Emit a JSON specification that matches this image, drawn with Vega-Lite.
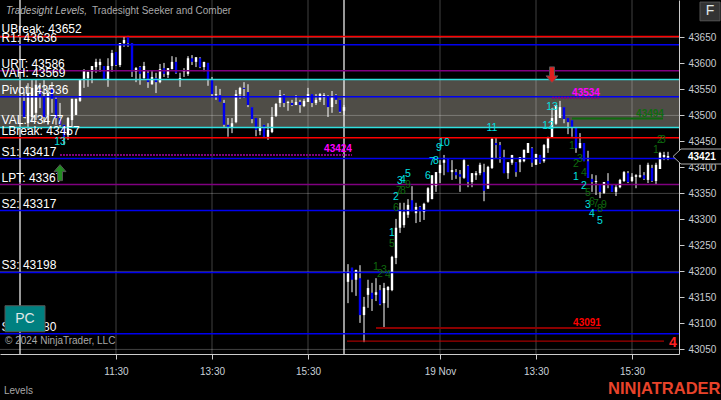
{"$schema":"https://vega.github.io/schema/vega-lite/v6.json","width":679,"height":354,"autosize":{"type":"none"},"padding":{"left":0,"top":0,"right":42,"bottom":46},"background":"#000000","config":{"view":{"stroke":null},"text":{"font":"Liberation Sans"},"axis":{"labelFont":"Liberation Sans"}},
"datasets":{
"candles":[
{"i":1,"h":43545,"l":43495,"o":43528,"c":43497},{"i":2,"h":43562,"l":43472,"o":43485,"c":43543},{"i":3,"h":43568,"l":43487,"o":43497,"c":43553},{"i":4,"h":43568,"l":43491,"o":43505,"c":43559},{"i":5,"h":43562,"l":43514,"o":43551,"c":43535},{"i":6,"h":43568,"l":43485,"o":43537,"c":43497},{"i":7,"h":43553,"l":43482,"o":43501,"c":43543},{"i":8,"h":43564,"l":43505,"o":43553,"c":43532},{"i":9,"h":43535,"l":43482,"o":43532,"c":43495},{"i":10,"h":43524,"l":43476,"o":43495,"c":43482},{"i":11,"h":43482,"l":43443,"o":43482,"c":43459},{"i":12,"h":43497,"l":43453,"o":43462,"c":43495},{"i":13,"h":43532,"l":43478,"o":43491,"c":43532},{"i":14,"h":43532,"l":43501,"o":43501,"c":43532},{"i":15,"h":43568,"l":43526,"o":43528,"c":43568},{"i":16,"h":43589,"l":43553,"o":43568,"c":43587},{"i":17,"h":43584,"l":43555,"o":43572,"c":43584},{"i":18,"h":43595,"l":43562,"o":43584,"c":43595},{"i":19,"h":43609,"l":43582,"o":43593,"c":43603},{"i":20,"h":43609,"l":43584,"o":43597,"c":43603},{"i":21,"h":43595,"l":43568,"o":43595,"c":43570},{"i":22,"h":43610,"l":43555,"o":43570,"c":43595},{"i":23,"h":43626,"l":43584,"o":43595,"c":43620},{"i":24,"h":43622,"l":43595,"o":43622,"c":43597},{"i":25,"h":43639,"l":43593,"o":43597,"c":43639},{"i":26,"h":43651,"l":43632,"o":43639,"c":43645},{"i":27,"h":43653,"l":43632,"o":43651,"c":43639},{"i":28,"h":43639,"l":43574,"o":43639,"c":43584},{"i":29,"h":43593,"l":43564,"o":43584,"c":43591},{"i":30,"h":43595,"l":43559,"o":43593,"c":43580},{"i":31,"h":43603,"l":43568,"o":43572,"c":43595},{"i":32,"h":43587,"l":43553,"o":43582,"c":43564},{"i":33,"h":43587,"l":43559,"o":43560,"c":43574},{"i":34,"h":43582,"l":43543,"o":43572,"c":43564},{"i":35,"h":43599,"l":43562,"o":43564,"c":43589},{"i":36,"h":43601,"l":43574,"o":43591,"c":43580},{"i":37,"h":43591,"l":43572,"o":43578,"c":43591},{"i":38,"h":43614,"l":43589,"o":43589,"c":43603},{"i":39,"h":43612,"l":43580,"o":43603,"c":43582},{"i":40,"h":43582,"l":43555,"o":43568,"c":43572},{"i":41,"h":43591,"l":43574,"o":43584,"c":43587},{"i":42,"h":43614,"l":43576,"o":43580,"c":43610},{"i":43,"h":43616,"l":43597,"o":43610,"c":43603},{"i":44,"h":43612,"l":43593,"o":43603,"c":43612},{"i":45,"h":43612,"l":43591,"o":43610,"c":43593},{"i":46,"h":43603,"l":43585,"o":43593,"c":43603},{"i":47,"h":43601,"l":43557,"o":43601,"c":43568},{"i":48,"h":43574,"l":43535,"o":43570,"c":43541},{"i":49,"h":43557,"l":43530,"o":43539,"c":43541},{"i":50,"h":43551,"l":43526,"o":43539,"c":43526},{"i":51,"h":43530,"l":43478,"o":43524,"c":43482},{"i":52,"h":43495,"l":43459,"o":43482,"c":43476},{"i":53,"h":43495,"l":43466,"o":43476,"c":43485},{"i":54,"h":43549,"l":43485,"o":43487,"c":43541},{"i":55,"h":43555,"l":43532,"o":43541,"c":43553},{"i":56,"h":43564,"l":43534,"o":43553,"c":43551},{"i":57,"h":43560,"l":43516,"o":43545,"c":43520},{"i":58,"h":43516,"l":43485,"o":43516,"c":43493},{"i":59,"h":43495,"l":43460,"o":43495,"c":43472},{"i":60,"h":43495,"l":43462,"o":43470,"c":43478},{"i":61,"h":43482,"l":43459,"o":43482,"c":43459},{"i":62,"h":43485,"l":43453,"o":43459,"c":43472},{"i":63,"h":43516,"l":43466,"o":43468,"c":43497},{"i":64,"h":43524,"l":43497,"o":43499,"c":43522},{"i":65,"h":43549,"l":43516,"o":43524,"c":43539},{"i":66,"h":43541,"l":43516,"o":43539,"c":43524},{"i":67,"h":43528,"l":43509,"o":43524,"c":43526},{"i":68,"h":43530,"l":43518,"o":43524,"c":43520},{"i":69,"h":43539,"l":43520,"o":43520,"c":43526},{"i":70,"h":43530,"l":43505,"o":43526,"c":43520},{"i":71,"h":43532,"l":43516,"o":43518,"c":43528},{"i":72,"h":43553,"l":43526,"o":43526,"c":43541},{"i":73,"h":43541,"l":43516,"o":43541,"c":43524},{"i":74,"h":43541,"l":43520,"o":43524,"c":43530},{"i":75,"h":43543,"l":43526,"o":43530,"c":43541},{"i":76,"h":43543,"l":43520,"o":43534,"c":43539},{"i":77,"h":43539,"l":43497,"o":43537,"c":43516},{"i":78,"h":43547,"l":43505,"o":43516,"c":43535},{"i":79,"h":43541,"l":43522,"o":43539,"c":43530},{"i":80,"h":43530,"l":43505,"o":43530,"c":43507},{"i":81,"h":43520,"l":43501,"o":43509,"c":43516},
{"i":82,"h":43214,"l":43139,"o":43180,"c":43197},{"i":83,"h":43207,"l":43160,"o":43207,"c":43184},{"i":84,"h":43203,"l":43153,"o":43184,"c":43203},{"i":85,"h":43212,"l":43101,"o":43187,"c":43116},{"i":86,"h":43151,"l":43064,"o":43116,"c":43132},{"i":87,"h":43184,"l":43130,"o":43155,"c":43168},{"i":88,"h":43178,"l":43124,"o":43159,"c":43147},{"i":89,"h":43187,"l":43143,"o":43155,"c":43160},{"i":90,"h":43174,"l":43135,"o":43164,"c":43137},{"i":91,"h":43178,"l":43091,"o":43139,"c":43168},{"i":92,"h":43172,"l":43130,"o":43164,"c":43170},{"i":93,"h":43230,"l":43162,"o":43164,"c":43228},{"i":94,"h":43301,"l":43214,"o":43226,"c":43284},{"i":95,"h":43332,"l":43274,"o":43284,"c":43318},{"i":96,"h":43332,"l":43284,"o":43289,"c":43314},{"i":97,"h":43339,"l":43303,"o":43309,"c":43328},{"i":98,"h":43364,"l":43316,"o":43337,"c":43316},{"i":99,"h":43332,"l":43293,"o":43312,"c":43324},{"i":100,"h":43326,"l":43295,"o":43324,"c":43316},{"i":101,"h":43332,"l":43299,"o":43314,"c":43330},{"i":102,"h":43362,"l":43332,"o":43334,"c":43360},{"i":103,"h":43385,"l":43339,"o":43339,"c":43385},{"i":104,"h":43391,"l":43353,"o":43364,"c":43391},{"i":105,"h":43414,"l":43370,"o":43389,"c":43405},{"i":106,"h":43424,"l":43385,"o":43409,"c":43414},{"i":107,"h":43418,"l":43391,"o":43416,"c":43391},{"i":108,"h":43414,"l":43376,"o":43391,"c":43395},{"i":109,"h":43397,"l":43378,"o":43391,"c":43385},{"i":110,"h":43395,"l":43353,"o":43387,"c":43382},{"i":111,"h":43416,"l":43378,"o":43380,"c":43414},{"i":112,"h":43405,"l":43362,"o":43403,"c":43372},{"i":113,"h":43389,"l":43362,"o":43372,"c":43389},{"i":114,"h":43393,"l":43376,"o":43385,"c":43389},{"i":115,"h":43409,"l":43385,"o":43389,"c":43405},{"i":116,"h":43407,"l":43335,"o":43391,"c":43355},{"i":117,"h":43403,"l":43359,"o":43359,"c":43401},{"i":118,"h":43457,"l":43397,"o":43399,"c":43455},{"i":119,"h":43457,"l":43418,"o":43447,"c":43443},{"i":120,"h":43449,"l":43409,"o":43443,"c":43420},{"i":121,"h":43434,"l":43389,"o":43420,"c":43389},{"i":122,"h":43410,"l":43378,"o":43389,"c":43410},{"i":123,"h":43424,"l":43405,"o":43409,"c":43424},{"i":124,"h":43410,"l":43382,"o":43410,"c":43391},{"i":125,"h":43420,"l":43391,"o":43410,"c":43420},{"i":126,"h":43434,"l":43410,"o":43412,"c":43434},{"i":127,"h":43447,"l":43428,"o":43428,"c":43447},{"i":128,"h":43439,"l":43401,"o":43437,"c":43409},{"i":129,"h":43426,"l":43405,"o":43405,"c":43426},{"i":130,"h":43424,"l":43407,"o":43424,"c":43409},{"i":131,"h":43445,"l":43409,"o":43412,"c":43443},{"i":132,"h":43459,"l":43428,"o":43437,"c":43457},{"i":133,"h":43514,"l":43457,"o":43457,"c":43495},{"i":134,"h":43520,"l":43482,"o":43484,"c":43520},{"i":135,"h":43528,"l":43495,"o":43495,"c":43516},{"i":136,"h":43516,"l":43485,"o":43516,"c":43493},{"i":137,"h":43495,"l":43464,"o":43495,"c":43487},{"i":138,"h":43491,"l":43459,"o":43491,"c":43476},{"i":139,"h":43476,"l":43428,"o":43476,"c":43437},{"i":140,"h":43466,"l":43437,"o":43437,"c":43447},{"i":141,"h":43447,"l":43412,"o":43447,"c":43412},{"i":142,"h":43432,"l":43380,"o":43412,"c":43380},{"i":143,"h":43387,"l":43353,"o":43378,"c":43372},{"i":144,"h":43385,"l":43347,"o":43372,"c":43374},{"i":145,"h":43368,"l":43341,"o":43368,"c":43353},{"i":146,"h":43372,"l":43349,"o":43351,"c":43372},{"i":147,"h":43389,"l":43360,"o":43374,"c":43366},{"i":148,"h":43368,"l":43353,"o":43366,"c":43353},{"i":149,"h":43366,"l":43345,"o":43353,"c":43362},{"i":150,"h":43378,"l":43360,"o":43362,"c":43376},{"i":151,"h":43393,"l":43372,"o":43374,"c":43391},{"i":152,"h":43393,"l":43370,"o":43389,"c":43372},{"i":153,"h":43389,"l":43372,"o":43374,"c":43382},{"i":154,"h":43387,"l":43360,"o":43382,"c":43385},{"i":155,"h":43405,"l":43380,"o":43382,"c":43385},{"i":156,"h":43391,"l":43376,"o":43385,"c":43378},{"i":157,"h":43409,"l":43370,"o":43376,"c":43405},{"i":158,"h":43405,"l":43372,"o":43399,"c":43374},{"i":159,"h":43409,"l":43368,"o":43374,"c":43405},{"i":160,"h":43430,"l":43397,"o":43397,"c":43428},{"i":161,"h":43430,"l":43414,"o":43420,"c":43424},{"i":162,"h":43430,"l":43414,"o":43418,"c":43422}],
"levels":[
{"t":"UBreak: 43652","p":43652,"kind":"break","i":-4.6},{"t":"R1: 43636","p":43636,"kind":"sr","i":-4.6},{"t":"URT: 43586","p":43586,"kind":"pt","i":-4.6},{"t":"VAH: 43569","p":43569,"kind":"va","i":-4.6},{"t":"Pivot: 43536","p":43536,"kind":"sr","i":-4.6},{"t":"VAL: 43477","p":43477,"kind":"va","i":-4.6},{"t":"LBreak: 43457","p":43457,"kind":"break","i":-4.6},{"t":"S1: 43417","p":43417,"kind":"sr","i":-4.6},{"t":"LPT: 43367","p":43367,"kind":"pt","i":-4.6},{"t":"S2: 43317","p":43317,"kind":"sr","i":-4.6},{"t":"S3: 43198","p":43198,"kind":"sr","i":-4.6},{"t":"S4: 43080","p":43080,"kind":"sr","i":-4.6}],
"counts":[
{"t":"13","i":10,"p":43449,"kind":"seek"},{"t":"1","i":93,"p":43274,"kind":"seek"},{"t":"2","i":94,"p":43343,"kind":"seek"},{"t":"3","i":95,"p":43374,"kind":"seek"},{"t":"4","i":95.75,"p":43376,"kind":"seek"},{"t":"5","i":97,"p":43387,"kind":"seek"},{"t":"6","i":102,"p":43384,"kind":"seek"},{"t":"7","i":103,"p":43410,"kind":"seek"},{"t":"8","i":104,"p":43412,"kind":"seek"},{"t":"9","i":104.75,"p":43437,"kind":"seek"},{"t":"10","i":106,"p":43447,"kind":"seek"},{"t":"11","i":118,"p":43476,"kind":"seek"},{"t":"12","i":132,"p":43480,"kind":"seek"},{"t":"13","i":133,"p":43516,"kind":"seek"},{"t":"1","i":139,"p":43382,"kind":"seek"},{"t":"2","i":141,"p":43364,"kind":"seek"},{"t":"3","i":142,"p":43328,"kind":"seek"},{"t":"4","i":143,"p":43310,"kind":"seek"},{"t":"5","i":145,"p":43297,"kind":"seek"},
{"t":"1","i":89,"p":43209,"kind":"comb"},{"t":"2","i":90,"p":43195,"kind":"comb"},{"t":"3","i":91,"p":43203,"kind":"comb"},{"t":"4","i":92,"p":43193,"kind":"comb"},{"t":"5","i":93,"p":43253,"kind":"comb"},{"t":"6","i":94,"p":43322,"kind":"comb"},{"t":"7","i":94.75,"p":43355,"kind":"comb"},{"t":"8","i":95.75,"p":43355,"kind":"comb"},{"t":"9","i":97,"p":43366,"kind":"comb"},
{"t":"1","i":138,"p":43441,"kind":"comb"},{"t":"2","i":139,"p":43407,"kind":"comb"},{"t":"3","i":140,"p":43416,"kind":"comb"},{"t":"4","i":141,"p":43389,"kind":"comb"},{"t":"5","i":142,"p":43351,"kind":"comb"},{"t":"6","i":143,"p":43334,"kind":"comb"},{"t":"7","i":144,"p":43330,"kind":"comb"},{"t":"8","i":145,"p":43320,"kind":"comb"},{"t":"9","i":146,"p":43328,"kind":"comb"},
{"t":"1","i":159,"p":43434,"kind":"comb"},{"t":"2","i":160,"p":43453,"kind":"comb"},{"t":"3","i":160.75,"p":43453,"kind":"comb"}],
"targets":[
{"t":"43424","i":79.5,"p":43435,"kind":"mag","from":10,"to":83,"lv":43424},{"t":"43534","i":141.5,"p":43543,"kind":"mag","from":133,"to":145,"lv":43534},{"t":"43494","i":157.5,"p":43503,"kind":"grn","from":138,"to":160.75,"lv":43494},{"t":"43091","i":141.75,"p":43101,"kind":"red","from":89,"to":145,"lv":43091}]
},
"layer":[
{"data":{"values":[{"a":-5,"b":164.75,"p1":43569,"p2":43477}]},"mark":{"type":"rect","color":"#4f4d47"},"encoding":{"x":{"field":"a","type":"quantitative","scale":{"domain":[-5,164.75],"nice":false,"zero":false},"axis":null},"x2":{"field":"b"},"y":{"field":"p1","type":"quantitative","scale":{"domain":[43041.2,43722],"nice":false,"zero":false},"axis":null},"y2":{"field":"p2"}}},
{"data":{"values":[{"p":43050},{"p":43200},{"p":43350},{"p":43500},{"p":43650}]},"mark":{"type":"rule","color":"#ffffff","opacity":0.25,"strokeWidth":1},"encoding":{"y":{"field":"p","type":"quantitative","scale":{"domain":[43041.2,43722],"nice":false,"zero":false},"axis":{"orient":"right","values":[43050,43100,43150,43200,43250,43300,43350,43400,43450,43500,43550,43600,43650],"format":"d","grid":false,"title":null,"domain":true,"domainColor":"#cccccc","tickColor":"#cccccc","tickSize":5,"labelColor":"#c8ccd0","labelFontSize":10,"labelPadding":4}}}},
{"data":{"values":[{"i":24},{"i":48},{"i":72},{"i":105},{"i":129},{"i":153}]},"mark":{"type":"rule","color":"#ffffff","opacity":0.25,"strokeWidth":1},"encoding":{"x":{"field":"i","type":"quantitative","scale":{"domain":[-5,164.75],"nice":false,"zero":false},"axis":{"values":[24,48,72,105,129,153],"labelExpr":"datum.value==24?'11:30':datum.value==48?'13:30':datum.value==72?'15:30':datum.value==105?'19 Nov':datum.value==129?'13:30':'15:30'","grid":false,"title":null,"domain":true,"domainColor":"#cccccc","tickColor":"#cccccc","tickSize":5,"labelColor":"#c8d0d8","labelFontSize":10,"labelPadding":7}}}},
{"data":{"values":[{"i":0},{"i":81}]},"mark":{"type":"rule","color":"#ffffff","strokeWidth":1.2},"encoding":{"x":{"field":"i","type":"quantitative","scale":{"domain":[-5,164.75],"nice":false,"zero":false},"axis":null}}},
{"data":{"name":"candles"},"mark":{"type":"rule","color":"#ffffff","strokeWidth":1},"encoding":{"x":{"field":"i","type":"quantitative","scale":{"domain":[-5,164.75],"nice":false,"zero":false},"axis":null},"y":{"field":"h","type":"quantitative","scale":{"domain":[43041.2,43722],"nice":false,"zero":false},"axis":null},"y2":{"field":"l"}}},
{"data":{"name":"candles"},"mark":{"type":"rule","strokeWidth":2.4},"encoding":{"x":{"field":"i","type":"quantitative","scale":{"domain":[-5,164.75],"nice":false,"zero":false},"axis":null},"y":{"field":"o","type":"quantitative","scale":{"domain":[43041.2,43722],"nice":false,"zero":false},"axis":null},"y2":{"field":"c"},"color":{"condition":{"test":"datum.c>=datum.o","value":"#ffffff"},"value":"#0000f0"}}},
{"data":{"name":"levels"},"mark":{"type":"rule","strokeWidth":1.5},"encoding":{"y":{"field":"p","type":"quantitative","scale":{"domain":[43041.2,43722],"nice":false,"zero":false},"axis":null},"color":{"field":"kind","type":"nominal","scale":{"domain":["break","sr","pt","va"],"range":["#ff0000","#0000f0","#800080","#30e0e0"]},"legend":null}}},
{"data":{"name":"targets"},"mark":{"type":"rule","strokeWidth":2},"encoding":{"x":{"field":"from","type":"quantitative","scale":{"domain":[-5,164.75],"nice":false,"zero":false},"axis":null},"x2":{"field":"to"},"y":{"field":"lv","type":"quantitative","scale":{"domain":[43041.2,43722],"nice":false,"zero":false},"axis":null},"color":{"field":"kind","type":"nominal","scale":{"domain":["mag","grn","red"],"range":["#800080","#0f6a0f","#8b0000"]},"legend":null},"strokeDash":{"field":"kind","type":"nominal","scale":{"domain":["mag","grn","red"],"range":[[2,1],[1,0],[1,0]]},"legend":null}}},
{"data":{"values":[{"a":81.75,"b":161,"p":43066}]},"mark":{"type":"rule","color":"#cc0000","strokeWidth":1},"encoding":{"x":{"field":"a","type":"quantitative","scale":{"domain":[-5,164.75],"nice":false,"zero":false},"axis":null},"x2":{"field":"b"},"y":{"field":"p","type":"quantitative","scale":{"domain":[43041.2,43722],"nice":false,"zero":false},"axis":null}}},
{"data":{"name":"levels"},"mark":{"type":"text","align":"left","baseline":"middle","dy":-7,"fontSize":12,"color":"#ffffff"},"encoding":{"x":{"field":"i","type":"quantitative","scale":{"domain":[-5,164.75],"nice":false,"zero":false},"axis":null},"y":{"field":"p","type":"quantitative","scale":{"domain":[43041.2,43722],"nice":false,"zero":false},"axis":null},"text":{"field":"t"}}},
{"data":{"name":"counts"},"mark":{"type":"text","align":"center","baseline":"middle","fontSize":10.5},"encoding":{"x":{"field":"i","type":"quantitative","scale":{"domain":[-5,164.75],"nice":false,"zero":false},"axis":null},"y":{"field":"p","type":"quantitative","scale":{"domain":[43041.2,43722],"nice":false,"zero":false},"axis":null},"text":{"field":"t"},"color":{"field":"kind","type":"nominal","scale":{"domain":["seek","comb"],"range":["#00e0e0","#0f6a0f"]},"legend":null}}},
{"data":{"name":"targets"},"mark":{"type":"text","align":"center","baseline":"middle","fontSize":10,"fontWeight":"bold"},"encoding":{"x":{"field":"i","type":"quantitative","scale":{"domain":[-5,164.75],"nice":false,"zero":false},"axis":null},"y":{"field":"p","type":"quantitative","scale":{"domain":[43041.2,43722],"nice":false,"zero":false},"axis":null},"text":{"field":"t"},"color":{"field":"kind","type":"nominal","scale":{"domain":["mag","grn","red"],"range":["#ff00ff","#0f6a0f","#ff0000"]},"legend":null}}},
{"data":{"values":[{"a":-3.75,"b":6.25,"p1":43134,"p2":43084,"k":"pc"},{"a":170,"b":175,"p1":43718,"p2":43682,"k":"f"}]},"mark":{"type":"rect","stroke":"#555555","strokeWidth":1},"encoding":{"x":{"field":"a","type":"quantitative","scale":{"domain":[-5,164.75],"nice":false,"zero":false},"axis":null},"x2":{"field":"b"},"y":{"field":"p1","type":"quantitative","scale":{"domain":[43041.2,43722],"nice":false,"zero":false},"axis":null},"y2":{"field":"p2"},"color":{"field":"k","type":"nominal","scale":{"domain":["pc","f"],"range":["#008080","#333333"]},"legend":null}}},
{"data":{"values":[{"i":1.25,"p":43109,"t":"PC"},{"i":172.5,"p":43701,"t":"F"}]},"mark":{"type":"text","align":"center","baseline":"middle","fontSize":14,"color":"#e0e8e8"},"encoding":{"x":{"field":"i","type":"quantitative","scale":{"domain":[-5,164.75],"nice":false,"zero":false},"axis":null},"y":{"field":"p","type":"quantitative","scale":{"domain":[43041.2,43722],"nice":false,"zero":false},"axis":null},"text":{"field":"t"}}},
{"data":{"values":[{"i":-3.5,"p":43701,"t":"Tradesight Levels,"}]},"mark":{"type":"text","align":"left","baseline":"middle","fontSize":10,"fontStyle":"italic","color":"#b4b4b4"},"encoding":{"x":{"field":"i","type":"quantitative","scale":{"domain":[-5,164.75],"nice":false,"zero":false},"axis":null},"y":{"field":"p","type":"quantitative","scale":{"domain":[43041.2,43722],"nice":false,"zero":false},"axis":null},"text":{"field":"t"}}},
{"data":{"values":[{"i":18,"p":43701,"t":"Tradesight Seeker and Comber"},{"i":-3.75,"p":43066,"t":"© 2024 NinjaTrader, LLC"},{"i":-4,"p":42970,"t":"Levels"}]},"mark":{"type":"text","align":"left","baseline":"middle","fontSize":10,"color":"#a8a8a8"},"encoding":{"x":{"field":"i","type":"quantitative","scale":{"domain":[-5,164.75],"nice":false,"zero":false},"axis":null},"y":{"field":"p","type":"quantitative","scale":{"domain":[43041.2,43722],"nice":false,"zero":false},"axis":null},"text":{"field":"t"}}},
{"data":{"values":[{"i":147,"p":42974,"t":"NIN|ATRADER"}]},"mark":{"type":"text","align":"left","baseline":"middle","fontSize":16.5,"fontWeight":"bold","color":"#e8432a"},"encoding":{"x":{"field":"i","type":"quantitative","scale":{"domain":[-5,164.75],"nice":false,"zero":false},"axis":null},"y":{"field":"p","type":"quantitative","scale":{"domain":[43041.2,43722],"nice":false,"zero":false},"axis":null},"text":{"field":"t"}}},
{"data":{"values":[{"i":163.25,"p":43062,"t":"4"}]},"mark":{"type":"text","align":"center","baseline":"middle","fontSize":14,"fontWeight":"bold","color":"#ff2020"},"encoding":{"x":{"field":"i","type":"quantitative","scale":{"domain":[-5,164.75],"nice":false,"zero":false},"axis":null},"y":{"field":"p","type":"quantitative","scale":{"domain":[43041.2,43722],"nice":false,"zero":false},"axis":null},"text":{"field":"t"}}},
{"data":{"values":[{"i":10,"p":43390}]},"mark":{"type":"point","filled":true,"opacity":1,"size":4,"shape":"M0 -8 L6 -1 L2.5 -1 L2.5 8 L-2.5 8 L-2.5 -1 L-6 -1 Z","color":"#228b22","stroke":"#555555","strokeWidth":1},"encoding":{"x":{"field":"i","type":"quantitative","scale":{"domain":[-5,164.75],"nice":false,"zero":false},"axis":null},"y":{"field":"p","type":"quantitative","scale":{"domain":[43041.2,43722],"nice":false,"zero":false},"axis":null}}},
{"data":{"values":[{"i":133,"p":43578}]},"mark":{"type":"point","filled":true,"opacity":1,"size":4,"shape":"M0 8 L6 1 L2.5 1 L2.5 -8 L-2.5 -8 L-2.5 1 L-6 1 Z","color":"#e02020","stroke":"#555555","strokeWidth":1},"encoding":{"x":{"field":"i","type":"quantitative","scale":{"domain":[-5,164.75],"nice":false,"zero":false},"axis":null},"y":{"field":"p","type":"quantitative","scale":{"domain":[43041.2,43722],"nice":false,"zero":false},"axis":null}}},
{"data":{"values":[{"i":164.75,"p":43421}]},"mark":{"type":"point","filled":true,"opacity":1,"size":4,"shape":"M-6 0 L2 -7.5 L43 -7.5 L43 7.5 L2 7.5 Z","color":"#000000","stroke":"#aaaaaa","strokeWidth":1},"encoding":{"x":{"field":"i","type":"quantitative","scale":{"domain":[-5,164.75],"nice":false,"zero":false},"axis":null},"y":{"field":"p","type":"quantitative","scale":{"domain":[43041.2,43722],"nice":false,"zero":false},"axis":null}}},
{"data":{"values":[{"i":167,"p":43421,"t":"43421"}]},"mark":{"type":"text","align":"left","baseline":"middle","fontSize":10,"fontWeight":"bold","color":"#ffffff"},"encoding":{"x":{"field":"i","type":"quantitative","scale":{"domain":[-5,164.75],"nice":false,"zero":false},"axis":null},"y":{"field":"p","type":"quantitative","scale":{"domain":[43041.2,43722],"nice":false,"zero":false},"axis":null},"text":{"field":"t"}}}
],
"resolve":{"scale":{"color":"independent","strokeDash":"independent"},"axis":{"x":"independent","y":"independent"}}}
